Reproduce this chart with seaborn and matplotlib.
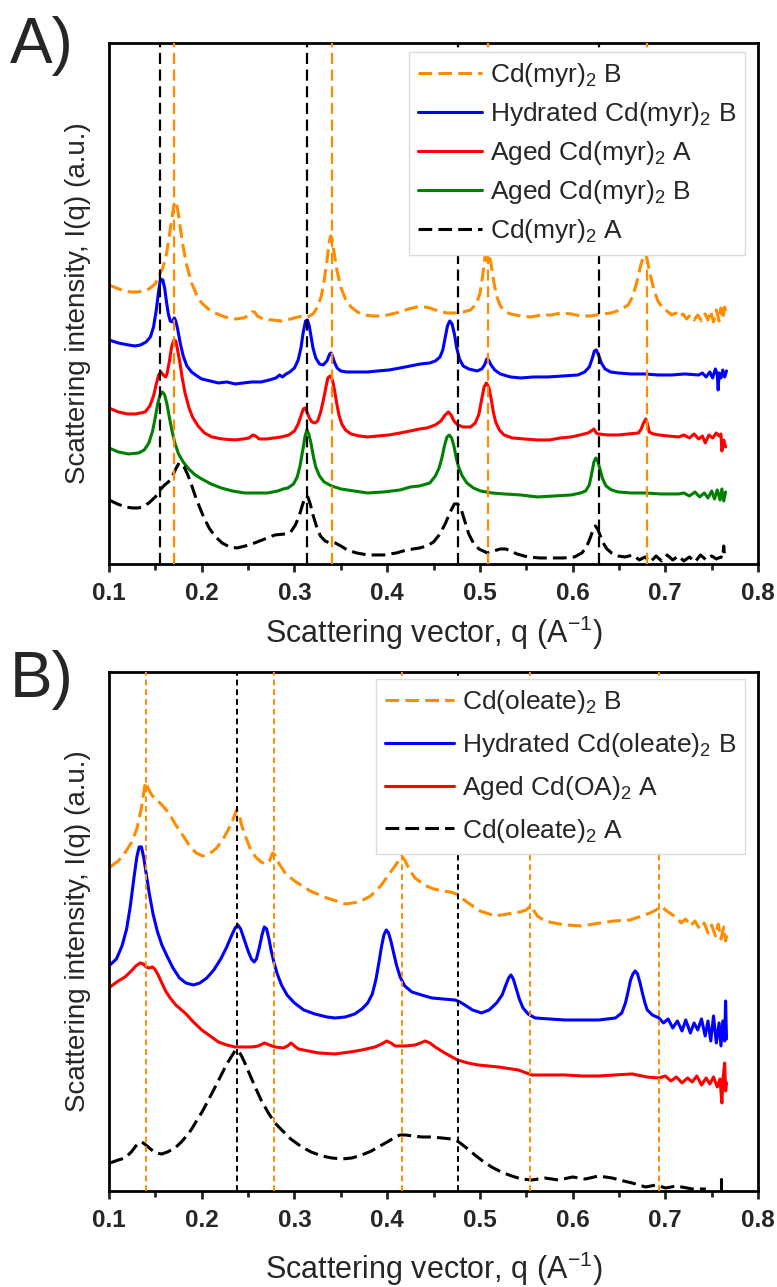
import matplotlib
matplotlib.use('Agg')
import matplotlib.pyplot as plt
from matplotlib.ticker import MultipleLocator, FormatStrFormatter
import seaborn as sns

# ---------------- data ----------------
# (q [1/A], intensity [a.u., stacked]) points for each trace

# panel A : Cd(myr)2 samples
myrB = [(0.100, 279), (0.108, 276), (0.116, 273), (0.124, 272), (0.131, 272), (0.137, 273), (0.143, 275),
        (0.150, 280), (0.154, 289), (0.158, 296), (0.162, 310), (0.165, 328), (0.168, 347), (0.1705, 362),
        (0.1725, 362), (0.1745, 352), (0.177, 335), (0.180, 317), (0.184, 298), (0.189, 281), (0.195, 268),
        (0.200, 261), (0.207, 255), (0.214, 251), (0.225, 247), (0.236, 245), (0.245, 246), (0.250, 248),
        (0.254, 252), (0.257, 252), (0.260, 248), (0.266, 245), (0.276, 244), (0.286, 243), (0.296, 245),
        (0.304, 247), (0.310, 248), (0.314, 247), (0.320, 250), (0.325, 257), (0.329, 268), (0.332, 283),
        (0.335, 303), (0.3375, 322), (0.339, 328), (0.3405, 325), (0.343, 310), (0.346, 293), (0.350, 277),
        (0.355, 265), (0.361, 257), (0.368, 252), (0.375, 249), (0.385, 248), (0.396, 248), (0.405, 250),
        (0.414, 252), (0.423, 255), (0.432, 257), (0.440, 257), (0.446, 256), (0.455, 253), (0.4645, 251),
        (0.475, 251), (0.482, 252), (0.490, 254), (0.496, 260), (0.500, 270), (0.503, 288), (0.5055, 308),
        (0.508, 303), (0.510, 309), (0.512, 300), (0.515, 282), (0.518, 268), (0.522, 258), (0.528, 252),
        (0.533, 250), (0.544, 248), (0.555, 247), (0.566, 249), (0.577, 249), (0.588, 251), (0.5985, 250),
        (0.609, 248), (0.620, 248), (0.631, 250), (0.642, 251), (0.651, 254), (0.660, 259), (0.665, 268),
        (0.669, 281), (0.673, 297), (0.6765, 308), (0.679, 309), (0.681, 302), (0.684, 288), (0.688, 273),
        (0.692, 263), (0.697, 256), (0.703, 252), (0.707, 249), (0.711, 251), (0.715, 247), (0.719, 250),
        (0.723, 245), (0.727, 249), (0.731, 244), (0.735, 249), (0.739, 243), (0.743, 250), (0.746, 244),
        (0.749, 253), (0.752, 242), (0.755, 254), (0.758, 243), (0.760, 256), (0.762, 245), (0.764, 257),
        (0.766, 250)]

hyd_myrB = [(0.100, 224), (0.110, 221), (0.121, 219), (0.128, 218), (0.134, 219), (0.140, 222), (0.1446, 227),
            (0.148, 237), (0.151, 254), (0.1535, 273), (0.1555, 285), (0.158, 284), (0.160, 276), (0.162, 262),
            (0.164, 250), (0.166, 243), (0.168, 242), (0.1705, 246), (0.172, 243), (0.174, 235), (0.177, 220),
            (0.180, 208), (0.184, 198), (0.189, 192), (0.195, 188), (0.200, 185), (0.209, 183), (0.218, 181),
            (0.227, 182), (0.236, 180), (0.245, 181), (0.254, 182), (0.264, 182), (0.273, 184), (0.280, 186),
            (0.284, 189), (0.287, 187), (0.291, 190), (0.295, 192), (0.300, 196), (0.304, 204), (0.307, 216),
            (0.3095, 232), (0.312, 243), (0.314, 244), (0.316, 238), (0.318, 227), (0.320, 216), (0.323, 206),
            (0.327, 200), (0.331, 199), (0.335, 203), (0.338, 210), (0.3395, 211), (0.341, 208), (0.343, 202),
            (0.346, 196), (0.350, 193), (0.356, 192), (0.366, 192), (0.379, 192), (0.390, 193), (0.402, 194),
            (0.414, 196), (0.425, 198), (0.436, 200), (0.446, 201), (0.452, 203), (0.457, 207), (0.460, 214),
            (0.4625, 226), (0.465, 238), (0.4675, 243), (0.470, 240), (0.4725, 230), (0.475, 216), (0.478, 205),
            (0.482, 198), (0.488, 195), (0.497, 193), (0.502, 195), (0.505, 199), (0.5075, 205), (0.5095, 204),
            (0.512, 199), (0.516, 194), (0.522, 190), (0.533, 187), (0.544, 186), (0.558, 187), (0.573, 187),
            (0.590, 188), (0.6058, 189), (0.613, 192), (0.618, 197), (0.621, 205), (0.6235, 213), (0.6255, 214),
            (0.628, 209), (0.631, 201), (0.635, 195), (0.641, 192), (0.649, 191), (0.663, 190), (0.678, 190),
            (0.692, 189), (0.707, 189), (0.721, 190), (0.736, 189), (0.740, 191), (0.744, 187), (0.748, 192),
            (0.751, 186), (0.754, 195), (0.756, 190), (0.757, 174), (0.758, 191), (0.760, 186), (0.762, 194),
            (0.764, 187), (0.766, 193)]

aged_myrA = [(0.100, 156), (0.110, 152), (0.120, 150), (0.1286, 150), (0.134, 151), (0.139, 152), (0.144, 158),
             (0.148, 168), (0.151, 180), (0.1535, 189), (0.156, 192), (0.1585, 189), (0.161, 187), (0.1625, 190),
             (0.165, 202), (0.1675, 217), (0.170, 224), (0.172, 223), (0.174, 214), (0.1765, 201), (0.179, 186),
             (0.182, 171), (0.186, 157), (0.190, 147), (0.196, 138), (0.203, 131), (0.211, 127), (0.222, 125),
             (0.236, 124), (0.245, 125), (0.251, 126), (0.255, 129), (0.258, 128), (0.262, 125), (0.270, 125),
             (0.278, 126), (0.286, 127), (0.294, 129), (0.300, 133), (0.304, 140), (0.307, 148), (0.3095, 155),
             (0.3115, 156), (0.3135, 152), (0.316, 146), (0.319, 142), (0.322, 141), (0.325, 143), (0.328, 151),
             (0.331, 163), (0.334, 177), (0.336, 186), (0.3385, 188), (0.341, 184), (0.343, 175), (0.3455, 161),
             (0.348, 149), (0.351, 140), (0.355, 134), (0.361, 130), (0.370, 128), (0.379, 127), (0.390, 128),
             (0.402, 129), (0.414, 131), (0.425, 133), (0.435, 135), (0.443, 136), (0.452, 139), (0.458, 143),
             (0.4625, 149), (0.466, 152), (0.469, 149), (0.472, 143), (0.476, 139), (0.482, 137), (0.490, 137),
             (0.495, 141), (0.499, 150), (0.502, 165), (0.5045, 177), (0.507, 181), (0.5095, 177), (0.512, 166),
             (0.5145, 152), (0.517, 142), (0.521, 134), (0.526, 129), (0.535, 126), (0.548, 125), (0.562, 124),
             (0.575, 124), (0.587, 126), (0.5985, 127), (0.608, 129), (0.6167, 131), (0.620, 133), (0.623, 135),
             (0.6255, 131), (0.6275, 130), (0.638, 129), (0.649, 129), (0.660, 130), (0.671, 131), (0.674, 135),
             (0.6765, 141), (0.679, 145), (0.681, 139), (0.6826, 132), (0.687, 130), (0.693, 129), (0.703, 128),
             (0.7145, 127), (0.720, 129), (0.726, 126), (0.731, 130), (0.736, 125), (0.740, 128), (0.743, 121),
             (0.747, 129), (0.751, 126), (0.755, 131), (0.758, 128), (0.760, 130), (0.761, 113), (0.763, 124),
             (0.765, 117)]

aged_myrB = [(0.100, 116), (0.110, 112), (0.121, 110), (0.132, 111), (0.138, 114), (0.143, 121), (0.147, 133),
             (0.150, 147), (0.1525, 160), (0.155, 169), (0.1575, 172), (0.160, 169), (0.1625, 160), (0.165, 147),
             (0.168, 133), (0.171, 121), (0.175, 110), (0.180, 102), (0.186, 95), (0.193, 89), (0.200, 85),
             (0.210, 80), (0.221, 76), (0.233, 73), (0.246, 71), (0.258, 71), (0.271, 71), (0.282, 73),
             (0.288, 75), (0.293, 76), (0.299, 80), (0.303, 87), (0.306, 98), (0.309, 114), (0.3115, 128),
             (0.3135, 134), (0.3155, 130), (0.318, 120), (0.3205, 107), (0.323, 97), (0.327, 88), (0.332, 82),
             (0.340, 78), (0.350, 75), (0.364, 73), (0.379, 71), (0.396, 72), (0.414, 74), (0.425, 77),
             (0.435, 78), (0.446, 81), (0.452, 88), (0.456, 96), (0.459, 106), (0.462, 119), (0.4645, 127),
             (0.467, 129), (0.4695, 126), (0.472, 118), (0.4745, 106), (0.477, 97), (0.481, 88), (0.486, 81),
             (0.493, 76), (0.5007, 73), (0.513, 71), (0.526, 70), (0.544, 69), (0.562, 67), (0.580, 68),
             (0.5985, 69), (0.6085, 71), (0.614, 73), (0.618, 79), (0.6205, 90), (0.623, 102), (0.625, 106),
             (0.627, 103), (0.6295, 95), (0.632, 86), (0.636, 78), (0.642, 74), (0.649, 72), (0.663, 71),
             (0.678, 71), (0.696, 70), (0.7145, 70), (0.720, 71), (0.726, 68), (0.732, 72), (0.737, 67),
             (0.742, 71), (0.746, 66), (0.750, 73), (0.753, 65), (0.756, 74), (0.759, 64), (0.761, 75),
             (0.763, 63), (0.765, 72)]

myrA = [(0.100, 64), (0.109, 60), (0.118, 57), (0.125, 56), (0.132, 56), (0.138, 58), (0.143, 61), (0.150, 67),
        (0.155, 74), (0.160, 79), (0.164, 82), (0.168, 87), (0.172, 95), (0.1755, 101), (0.178, 100),
        (0.181, 97), (0.185, 89), (0.189, 79), (0.193, 68), (0.198, 56), (0.203, 45), (0.208, 36), (0.214, 28),
        (0.222, 21), (0.230, 17), (0.238, 16), (0.247, 18), (0.257, 21), (0.268, 25), (0.279, 29), (0.290, 30),
        (0.296, 32), (0.301, 39), (0.305, 48), (0.309, 60), (0.312, 68), (0.3145, 67), (0.317, 60), (0.320, 49),
        (0.324, 37), (0.328, 28), (0.333, 23), (0.338, 21), (0.344, 21), (0.350, 18), (0.357, 14), (0.367, 11),
        (0.379, 9), (0.396, 9), (0.410, 11), (0.421, 14), (0.435, 16), (0.443, 18), (0.450, 22), (0.457, 30),
        (0.463, 41), (0.468, 52), (0.4725, 60), (0.476, 60), (0.480, 54), (0.484, 42), (0.488, 30), (0.493, 21),
        (0.499, 15), (0.508, 11), (0.515, 13), (0.522, 15), (0.528, 15), (0.533, 13), (0.540, 10), (0.5515, 7),
        (0.565, 6), (0.577, 6), (0.590, 6), (0.602, 7), (0.610, 11), (0.615, 17), (0.619, 26), (0.622, 34),
        (0.6245, 38), (0.627, 35), (0.630, 28), (0.633, 21), (0.637, 15), (0.642, 11), (0.649, 8), (0.6565, 7),
        (0.665, 9), (0.672, 4), (0.678, 7), (0.684, 2), (0.690, 8), (0.696, 3), (0.702, 9), (0.708, 4),
        (0.714, 8), (0.720, 3), (0.726, 7), (0.732, 2), (0.738, 9), (0.744, 4), (0.750, 8), (0.755, 5),
        (0.760, 7), (0.762, 6), (0.763, 18), (0.764, 6)]

# panel B : Cd(oleate)2 samples
oleB = [(0.101, 324), (0.110, 330), (0.117, 338), (0.124, 348), (0.130, 362), (0.135, 383), (0.1385, 405),
        (0.140, 409), (0.1425, 402), (0.146, 396), (0.150, 392), (0.155, 388), (0.160, 383), (0.1658, 376),
        (0.172, 366), (0.180, 355), (0.187, 345), (0.194, 338), (0.201, 335), (0.208, 337), (0.215, 342),
        (0.222, 350), (0.229, 362), (0.234, 372), (0.2375, 381), (0.240, 378), (0.243, 366), (0.247, 355),
        (0.252, 343), (0.258, 334), (0.264, 329), (0.269, 327), (0.273, 330), (0.2765, 338), (0.279, 336),
        (0.283, 328), (0.290, 318), (0.300, 310), (0.317, 300), (0.335, 293), (0.355, 287), (0.370, 289),
        (0.382, 295), (0.393, 305), (0.403, 318), (0.410, 327), (0.4155, 335), (0.419, 331), (0.424, 321),
        (0.430, 313), (0.440, 306), (0.450, 302), (0.460, 300), (0.468, 299), (0.4745, 297), (0.480, 293),
        (0.489, 287), (0.500, 280), (0.5164, 275), (0.530, 277), (0.5434, 279), (0.550, 281), (0.5545, 285),
        (0.557, 282), (0.562, 275), (0.570, 270), (0.580, 268), (0.592, 266), (0.610, 265), (0.6297, 268),
        (0.645, 270), (0.662, 271), (0.675, 275), (0.6836, 278), (0.690, 281), (0.694, 284), (0.697, 284),
        (0.700, 281), (0.7078, 276), (0.712, 274), (0.717, 268), (0.722, 272), (0.727, 265), (0.732, 270),
        (0.737, 262), (0.742, 268), (0.746, 258), (0.750, 266), (0.754, 255), (0.757, 267), (0.760, 252),
        (0.763, 264), (0.765, 250), (0.767, 259)]

hyd_oleB = [(0.101, 226), (0.108, 232), (0.114, 245), (0.119, 262), (0.123, 285), (0.127, 314), (0.130, 334),
            (0.1325, 344), (0.135, 344), (0.1375, 333), (0.140, 318), (0.1435, 297), (0.1475, 277), (0.152, 260),
            (0.157, 246), (0.1625, 235), (0.169, 223), (0.176, 213), (0.183, 208), (0.191, 206), (0.198, 208),
            (0.2055, 213), (0.213, 221), (0.2205, 232), (0.227, 244), (0.232, 255), (0.236, 263), (0.239, 266),
            (0.242, 262), (0.246, 251), (0.250, 240), (0.2535, 232), (0.2565, 229), (0.259, 232), (0.262, 243),
            (0.265, 256), (0.2675, 264), (0.270, 262), (0.2725, 252), (0.275, 240), (0.278, 228), (0.2815, 217),
            (0.286, 206), (0.292, 196), (0.300, 188), (0.310, 181), (0.322, 177), (0.335, 174), (0.3439, 173),
            (0.355, 174), (0.365, 177), (0.3727, 182), (0.379, 188), (0.384, 197), (0.388, 212), (0.391, 228),
            (0.394, 245), (0.3965, 256), (0.399, 261), (0.4015, 258), (0.404, 250), (0.407, 238), (0.410, 226),
            (0.414, 214), (0.419, 205), (0.4266, 199), (0.437, 196), (0.4482, 193), (0.460, 192), (0.4729, 191),
            (0.4785, 189), (0.4838, 186), (0.492, 181), (0.5018, 178), (0.510, 181), (0.518, 188), (0.524, 196),
            (0.528, 206), (0.531, 213), (0.5335, 216), (0.536, 212), (0.539, 203), (0.5425, 192), (0.5465, 183),
            (0.552, 177), (0.5596, 173), (0.575, 172), (0.592, 171), (0.610, 171), (0.6282, 171), (0.6462, 173),
            (0.653, 178), (0.657, 188), (0.660, 200), (0.6625, 211), (0.665, 217), (0.6675, 220), (0.670, 217),
            (0.6725, 209), (0.675, 199), (0.678, 188), (0.6805, 181), (0.686, 176), (0.6931, 173), (0.698, 168),
            (0.703, 172), (0.708, 163), (0.713, 170), (0.718, 160), (0.722, 171), (0.727, 158), (0.731, 168),
            (0.735, 161), (0.739, 172), (0.743, 155), (0.746, 170), (0.749, 150), (0.752, 175), (0.755, 148),
            (0.758, 168), (0.760, 145), (0.762, 170), (0.764, 150), (0.765, 190), (0.766, 152)]

aged_oaA = [(0.101, 204), (0.110, 210), (0.1173, 214), (0.124, 220), (0.129, 225), (0.1335, 228), (0.137, 227),
            (0.140, 224), (0.1435, 223), (0.147, 224), (0.150, 221), (0.153, 216), (0.157, 208), (0.161, 200),
            (0.166, 193), (0.172, 186), (0.182, 178), (0.191, 169), (0.200, 161), (0.209, 155), (0.218, 149),
            (0.227, 146), (0.236, 144), (0.245, 144), (0.254, 144), (0.261, 145), (0.2676, 148), (0.273, 146),
            (0.2791, 144), (0.2881, 143), (0.2925, 145), (0.2964, 148), (0.300, 145), (0.3043, 142), (0.315, 140),
            (0.3259, 138), (0.3439, 137), (0.360, 139), (0.3727, 141), (0.387, 144), (0.394, 147), (0.3996, 150),
            (0.404, 148), (0.4086, 145), (0.420, 145), (0.4302, 146), (0.436, 148), (0.441, 150), (0.446, 148),
            (0.4518, 144), (0.4621, 138), (0.4758, 131), (0.487, 128), (0.4982, 126), (0.5199, 124), (0.5415, 121),
            (0.556, 116), (0.575, 116), (0.592, 116), (0.610, 115), (0.6282, 115), (0.645, 116), (0.6643, 117),
            (0.680, 114), (0.6931, 113), (0.700, 115), (0.706, 110), (0.712, 114), (0.718, 108), (0.724, 113),
            (0.729, 109), (0.734, 115), (0.739, 106), (0.744, 113), (0.748, 107), (0.752, 114), (0.756, 104),
            (0.759, 112), (0.761, 88), (0.762, 110), (0.764, 128), (0.765, 100), (0.766, 108)]

oleA = [(0.101, 28), (0.110, 31), (0.1173, 33), (0.124, 39), (0.129, 45), (0.1335, 49), (0.137, 48), (0.141, 45),
        (0.146, 41), (0.151, 38), (0.1568, 37), (0.163, 39), (0.1712, 43), (0.178, 49), (0.1845, 56),
        (0.1892, 62), (0.195, 71), (0.201, 80), (0.2072, 91), (0.2145, 104), (0.2216, 117), (0.227, 127),
        (0.2324, 135), (0.2365, 141), (0.2395, 140), (0.243, 135), (0.247, 127), (0.252, 116), (0.2576, 104),
        (0.264, 91), (0.2719, 78), (0.279, 68), (0.2863, 61), (0.296, 52), (0.3079, 44), (0.318, 39),
        (0.3295, 35), (0.3405, 33), (0.3511, 32), (0.362, 33), (0.3727, 36), (0.383, 40), (0.3942, 46),
        (0.402, 50), (0.4086, 54), (0.414, 56), (0.4194, 56), (0.428, 55), (0.4374, 54), (0.4477, 54),
        (0.459, 53), (0.4693, 52), (0.4755, 50), (0.4801, 47), (0.487, 42), (0.4946, 36), (0.503, 30),
        (0.5126, 24), (0.523, 19), (0.5343, 15), (0.545, 12), (0.556, 11), (0.570, 13), (0.5848, 11),
        (0.600, 14), (0.6137, 12), (0.628, 15), (0.6426, 13), (0.655, 10), (0.6643, 8), (0.6787, 4),
        (0.690, 6), (0.7004, 3), (0.712, 5), (0.7292, 2), (0.7437, 2)]
oleA_spike = [(0.7605, 2), (0.7605, 12)]

# reference peak positions (vertical guide lines)
linesA_black = [0.155, 0.314, 0.476, 0.628]
linesA_orange = [0.170, 0.340, 0.509, 0.680]
linesB_black = [0.238, 0.476]
linesB_orange = [0.1395, 0.278, 0.416, 0.554, 0.693]

labelsA = ['Cd(myr)$_2$ B', 'Hydrated Cd(myr)$_2$ B', 'Aged Cd(myr)$_2$ A', 'Aged Cd(myr)$_2$ B', 'Cd(myr)$_2$ A']
labelsB = ['Cd(oleate)$_2$ B', 'Hydrated Cd(oleate)$_2$ B', 'Aged Cd(OA)$_2$ A', 'Cd(oleate)$_2$ A']

ORANGE = '#ff8c00'
BLUE = '#0000ff'
RED = '#ff0000'
GREEN = '#008000'
BLACK = '#000000'

# ---------------- style ----------------
sns.set_style('ticks')
plt.rcParams['font.family'] = ['Liberation Sans', 'DejaVu Sans']
plt.rcParams['mathtext.default'] = 'regular'

fig = plt.figure(figsize=(7.77, 12.87), dpi=100)
axA = fig.add_axes([0.1403, 0.5618, 0.8353, 0.4048])
axB = fig.add_axes([0.1403, 0.0746, 0.8353, 0.4033])


def curve(ax, pts, color, label, dashed=False):
    q, inten = zip(*pts)
    sns.lineplot(x=list(q), y=list(inten), ax=ax, color=color, lw=2.2, label=label,
                 estimator=None, sort=False, zorder=2)
    if dashed:
        ax.lines[-1].set_dashes((4.5, 2.0))


def style_axes(ax, top, xl_y):
    ax.set_xlim(0.1, 0.8)
    ax.set_ylim(0, top)
    ax.set_yticks([])
    ax.xaxis.set_major_locator(MultipleLocator(0.1))
    ax.xaxis.set_minor_locator(MultipleLocator(0.05))
    ax.xaxis.set_major_formatter(FormatStrFormatter('%.1f'))
    ax.tick_params(axis='x', which='major', direction='out', length=6, width=2, pad=7,
                   labelsize=17.5, bottom=True, top=False)
    ax.tick_params(axis='x', which='minor', direction='out', length=4, width=2, bottom=True, top=False)
    for lab in ax.get_xticklabels():
        lab.set_fontweight('bold')
    for s in ax.spines.values():
        s.set_visible(True)
        s.set_linewidth(2)
        s.set_color('black')
    ax.set_xlabel('Scattering vector, q (A$^{-1}$)', fontsize=22)
    ax.xaxis.set_label_coords(0.5, xl_y)
    ax.xaxis.label.set_verticalalignment('baseline')
    ax.set_ylabel('Scattering intensity, I(q) (a.u.)', fontsize=20)
    ax.yaxis.set_label_coords(-0.028, 0.5)


# panel A
curve(axA, myrB, ORANGE, labelsA[0], dashed=True)
curve(axA, hyd_myrB, BLUE, labelsA[1])
curve(axA, aged_myrA, RED, labelsA[2])
curve(axA, aged_myrB, GREEN, labelsA[3])
curve(axA, myrA, BLACK, labelsA[4], dashed=True)
for x in linesA_black:
    axA.axvline(x, color=BLACK, lw=1.6, dashes=(5, 2.5), zorder=3)
for x in linesA_orange:
    axA.axvline(x, color=ORANGE, lw=1.6, dashes=(5, 2.5), zorder=3)
style_axes(axA, 521, -0.1516)
legA = axA.legend(loc='upper right', bbox_to_anchor=(0.98, 0.983), fontsize=19, frameon=True,
                  fancybox=False, edgecolor='#dcdcdc', framealpha=1, handlelength=2.4,
                  handletextpad=0.3, labelspacing=0.42, borderpad=0.35, borderaxespad=0)
legA.set_zorder(5)

# panel B
curve(axB, oleB, ORANGE, labelsB[0], dashed=True)
curve(axB, hyd_oleB, BLUE, labelsB[1])
curve(axB, aged_oaA, RED, labelsB[2])
curve(axB, oleA, BLACK, labelsB[3], dashed=True)
sq, si = zip(*oleA_spike)
axB.plot(sq, si, color=BLACK, lw=2.2)
for x in linesB_black:
    axB.axvline(x, color=BLACK, lw=1.4, dashes=(3, 2), zorder=3)
for x in linesB_orange:
    axB.axvline(x, color=ORANGE, lw=1.4, dashes=(3, 2), zorder=3)
style_axes(axB, 519, -0.1696)
legB = axB.legend(loc='upper right', bbox_to_anchor=(0.98, 0.9865), fontsize=19, frameon=True,
                  fancybox=False, edgecolor='#dcdcdc', framealpha=1, handlelength=2.6,
                  handletextpad=0.3, labelspacing=0.56, borderpad=0.35, borderaxespad=0)
legB.set_zorder(5)

fig.text(10 / 777, 1 - 63 / 1287, 'A)', fontsize=46, va='baseline', ha='left')
fig.text(10 / 777, 1 - 697 / 1287, 'B)', fontsize=46, va='baseline', ha='left')

fig.savefig('out.png', dpi=100)
